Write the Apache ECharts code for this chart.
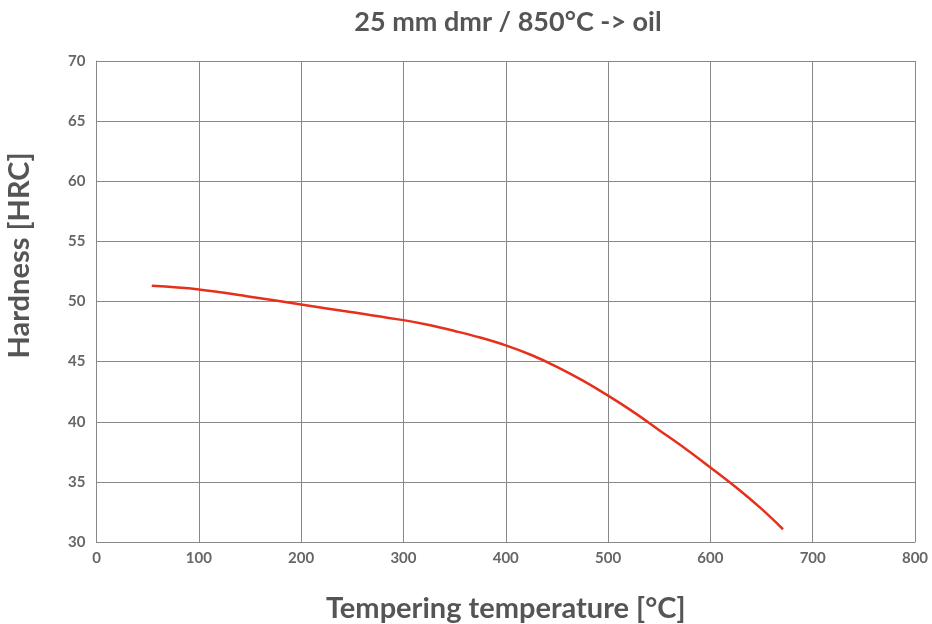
<!DOCTYPE html>
<html><head><meta charset="utf-8">
<script src="https://cdn.jsdelivr.net/npm/echarts@6/dist/echarts.min.js"></script>
<style>html,body{margin:0;padding:0;background:#fff}#c{width:932px;height:624px}</style>
</head><body><div id="c"></div>
<script>
const temps = [54, 100, 150, 200, 250, 300, 325, 350, 375, 400, 425, 450, 475, 500, 525, 550, 575, 600, 625, 650, 671];
const hardness = [51.3, 51.0, 50.4, 49.75, 49.1, 48.45, 48.05, 47.55, 47.0, 46.35, 45.55, 44.57, 43.44, 42.17, 40.8, 39.3, 37.8, 36.2, 34.55, 32.75, 31.06];
const titleText = '25 mm dmr / 850°C -> oil';
const xName = 'Tempering temperature [°C]';
const yName = 'Hardness [HRC]';

const chart = echarts.init(document.getElementById('c'));
const font = 'Lato, "Open Sans", sans-serif';
chart.setOption({
  animation: false,
  title: { text: titleText, left: 503, textAlign: 'center', top: 4,
    textStyle: { fontFamily: font, fontSize: 27, fontWeight: 'bold', color: '#555' } },
  grid: { left: 96.5, right: 17, top: 61, bottom: 82, outerBoundsMode: 'none' },
  xAxis: { type: 'value', min: 0, max: 800, interval: 100,
    name: xName, nameLocation: 'middle', nameGap: 52,
    nameTextStyle: { fontFamily: font, fontSize: 29, fontWeight: 'bold', color: '#555' },
    axisLine: { show: true, lineStyle: { color: '#888', width: 1 } },
    axisTick: { show: false },
    axisLabel: { fontFamily: font, fontSize: 15, color: '#666', margin: 9, fontWeight: 'bold' },
    splitLine: { show: true, lineStyle: { color: '#888', width: 1 } } },
  yAxis: { type: 'value', min: 30, max: 70, interval: 5,
    name: yName, nameLocation: 'middle', nameGap: 62, nameRotate: 90,
    nameTextStyle: { fontFamily: font, fontSize: 29, fontWeight: 'bold', color: '#555', padding: [0, 0, 0, 92] },
    axisLine: { show: true, lineStyle: { color: '#888', width: 1 } },
    axisTick: { show: false },
    axisLabel: { fontFamily: font, fontSize: 15, color: '#666', margin: 11, fontWeight: 'bold' },
    splitLine: { show: true, lineStyle: { color: '#888', width: 1 } } },
  series: [{ type: 'line', smooth: 0.4, symbol: 'none',
    data: temps.map((t, i) => [t, hardness[i]]),
    lineStyle: { color: '#e5301c', width: 2.5 } }]
});
</script></body></html>
